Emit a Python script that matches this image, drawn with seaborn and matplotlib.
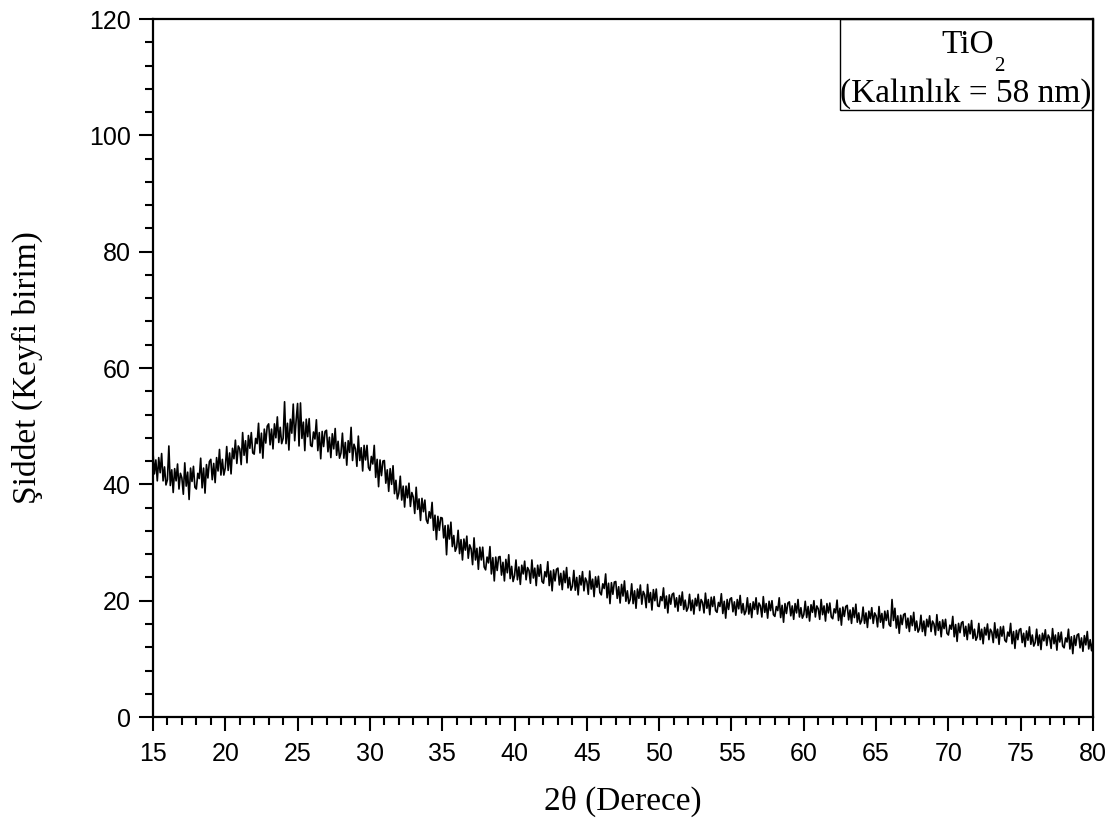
import numpy as np
import pandas as pd
import matplotlib
matplotlib.use("Agg")
import matplotlib.pyplot as plt
from matplotlib.patches import Rectangle
from matplotlib.ticker import MultipleLocator
import seaborn as sns

# ---- data: intensity every 0.1 degree, 15.0 ... 80.0 ----
two_theta_start = 15.0
two_theta_step = 0.1
intensity = [
    45.6, 41.8, 44.2, 40.6, 44.6, 42.0, 45.3, 40.6, 43.0, 39.9,  # 15
    40.8, 46.6, 39.8, 42.5, 38.6, 42.7, 40.6, 43.5, 39.2, 41.9,  # 16
    41.1, 38.3, 43.7, 39.7, 42.1, 37.4, 42.8, 40.5, 43.1, 39.5,  # 17
    39.2, 41.9, 41.0, 44.5, 39.4, 42.8, 38.5, 43.4, 41.1, 43.9,  # 18
    44.3, 40.8, 43.6, 40.3, 44.6, 42.3, 46.0, 41.6, 44.3, 41.6,  # 19
    42.8, 46.5, 42.4, 45.4, 41.8, 46.2, 44.4, 47.6, 43.6, 46.6,  # 20
    46.1, 43.4, 48.9, 45.0, 47.5, 43.7, 48.4, 46.2, 48.9, 45.4,  # 21
    45.2, 47.9, 47.0, 50.5, 45.4, 48.8, 44.5, 49.5, 47.1, 50.0,  # 22
    50.4, 46.8, 49.5, 46.1, 50.4, 48.0, 51.6, 47.2, 49.8, 47.0,  # 23
    47.9, 54.2, 47.0, 50.5, 45.9, 51.2, 48.8, 53.8, 47.5, 51.0,  # 24
    53.9, 46.6, 54.0, 47.9, 50.7, 45.8, 51.2, 48.2, 51.3, 46.7,  # 25
    46.5, 49.0, 47.8, 51.1, 45.8, 48.9, 44.4, 49.1, 46.5, 49.1,  # 26
    49.3, 45.6, 48.1, 44.6, 48.7, 46.1, 49.6, 45.0, 47.4, 44.5,  # 27
    45.4, 48.8, 44.5, 47.2, 43.3, 47.5, 45.5, 49.8, 44.1, 46.9,  # 28
    46.1, 43.1, 48.3, 44.1, 46.3, 42.3, 46.7, 44.2, 46.7, 42.9,  # 29
    42.4, 44.8, 43.5, 46.7, 41.2, 44.3, 39.6, 44.2, 41.5, 44.0,  # 30
    44.1, 40.2, 42.5, 38.8, 42.7, 40.0, 43.2, 38.4, 40.7, 37.5,  # 31
    38.5, 41.4, 37.3, 39.7, 36.1, 39.7, 37.7, 40.2, 36.2, 38.6,  # 32
    37.8, 35.0, 39.5, 35.7, 37.5, 33.8, 37.6, 35.3, 37.3, 33.9,  # 33
    33.3, 35.3, 34.2, 36.9, 32.1, 34.7, 30.5, 34.5, 32.1, 34.3,  # 34
    34.2, 30.8, 32.9, 27.9, 33.0, 30.6, 33.5, 29.3, 31.2, 28.5,  # 35
    29.2, 32.1, 28.1, 30.5, 27.0, 30.6, 28.7, 31.1, 27.3, 29.6,  # 36
    28.9, 26.2, 30.8, 27.0, 29.0, 25.4, 29.2, 27.0, 29.2, 25.8,  # 37
    25.3, 27.5, 26.5, 29.3, 24.6, 27.4, 23.4, 27.5, 25.2, 27.5,  # 38
    27.6, 24.4, 26.6, 23.4, 27.1, 24.8, 27.9, 23.8, 25.9, 23.3,  # 39
    24.3, 27.0, 23.6, 25.8, 22.8, 26.1, 24.6, 26.8, 23.6, 25.7,  # 40
    25.2, 23.0, 27.0, 23.9, 25.6, 22.6, 26.1, 24.2, 26.2, 23.3,  # 41
    23.0, 25.0, 24.1, 26.7, 22.6, 25.1, 21.7, 25.3, 23.4, 25.4,  # 42
    25.6, 22.7, 24.7, 21.9, 25.1, 23.1, 25.7, 22.2, 24.0, 21.8,  # 43
    22.5, 25.2, 21.8, 24.0, 21.0, 24.3, 22.7, 25.0, 21.7, 23.9,  # 44
    23.3, 21.1, 25.1, 22.0, 23.7, 20.7, 24.1, 22.3, 24.2, 21.4,  # 45
    21.0, 22.9, 22.1, 24.6, 20.5, 23.0, 19.5, 23.1, 21.1, 23.2,  # 46
    23.3, 20.4, 22.4, 19.6, 22.8, 20.8, 23.4, 19.9, 21.7, 19.5,  # 47
    20.2, 22.9, 19.5, 21.7, 18.7, 22.0, 20.4, 22.7, 19.4, 21.6,  # 48
    21.0, 18.8, 22.8, 19.7, 21.4, 18.4, 21.9, 20.0, 22.0, 19.1,  # 49
    19.0, 20.7, 20.0, 22.2, 18.7, 20.8, 17.9, 21.0, 19.4, 21.1,  # 50
    21.3, 18.9, 20.5, 18.2, 20.9, 19.2, 21.5, 18.5, 20.1, 18.2,  # 51
    18.8, 21.1, 18.3, 20.1, 17.7, 20.4, 19.1, 21.1, 18.3, 20.2,  # 52
    19.7, 17.9, 21.3, 18.7, 20.2, 17.6, 20.6, 19.0, 20.7, 18.3,  # 53
    18.0, 19.7, 19.0, 21.2, 17.8, 19.9, 17.0, 20.2, 18.5, 20.3,  # 54
    20.5, 18.1, 19.8, 17.5, 20.2, 18.6, 20.9, 17.9, 19.5, 17.6,  # 55
    18.2, 20.5, 17.7, 19.5, 17.1, 19.8, 18.5, 20.5, 17.7, 19.6,  # 56
    19.1, 17.2, 20.7, 18.0, 19.5, 17.0, 19.9, 18.3, 20.0, 17.6,  # 57
    17.3, 19.0, 18.3, 20.5, 17.1, 19.2, 16.3, 19.5, 17.8, 19.6,  # 58
    19.8, 17.4, 19.1, 16.8, 19.5, 17.9, 20.2, 17.2, 18.8, 17.0,  # 59
    17.6, 19.9, 17.1, 19.0, 16.5, 19.3, 18.0, 20.0, 17.2, 19.1,  # 60
    18.6, 16.8, 20.2, 17.6, 19.1, 16.5, 19.5, 17.9, 19.6, 17.2,  # 61
    16.9, 18.6, 17.9, 20.1, 16.6, 18.7, 15.8, 18.9, 17.3, 19.0,  # 62
    19.2, 16.7, 18.4, 16.1, 18.8, 17.1, 19.4, 16.3, 17.9, 16.0,  # 63
    16.6, 18.9, 16.1, 17.9, 15.4, 18.2, 16.9, 18.8, 16.1, 17.9,  # 64
    17.4, 15.5, 19.0, 16.3, 17.8, 15.3, 18.2, 16.6, 18.3, 15.9,  # 65
    15.6, 20.2, 16.6, 18.7, 15.3, 17.4, 14.4, 17.5, 15.9, 17.6,  # 66
    17.8, 15.3, 17.0, 14.7, 17.4, 15.7, 18.0, 14.9, 16.5, 14.6,  # 67
    15.2, 17.5, 14.7, 16.5, 14.0, 16.8, 15.5, 17.4, 14.7, 16.5,  # 68
    16.0, 14.1, 17.6, 14.9, 16.4, 13.8, 16.7, 15.2, 16.8, 14.4,  # 69
    14.1, 15.8, 15.1, 17.3, 13.8, 15.9, 13.0, 16.1, 14.5, 16.2,  # 70
    16.4, 13.9, 15.6, 13.3, 16.0, 14.3, 16.6, 13.5, 15.1, 13.2,  # 71
    13.8, 16.1, 13.3, 15.1, 12.6, 15.4, 14.1, 16.0, 13.3, 15.1,  # 72
    14.6, 12.8, 16.2, 13.6, 15.1, 12.5, 15.5, 13.9, 15.6, 13.2,  # 73
    12.9, 14.6, 13.9, 16.1, 12.6, 14.7, 11.8, 14.9, 13.3, 15.0,  # 74
    15.2, 12.8, 14.4, 12.1, 14.8, 13.2, 15.5, 12.5, 14.1, 12.2,  # 75
    12.8, 15.1, 12.3, 14.1, 11.6, 14.4, 13.1, 15.0, 12.3, 14.1,  # 76
    13.6, 11.8, 15.2, 12.6, 14.1, 11.5, 14.5, 12.9, 14.6, 12.2,  # 77
    11.9, 13.6, 12.9, 15.1, 11.7, 13.8, 10.9, 14.0, 12.3, 14.1,  # 78
    14.3, 11.9, 13.6, 11.3, 14.0, 12.4, 14.7, 11.7, 13.3, 11.4,  # 79
    13.2,                                                        # 80
]
two_theta = np.round(two_theta_start + two_theta_step * np.arange(len(intensity)), 2)

x_label = "2θ (Derece)"
y_label = "Şiddet (Keyfi birim)"
box_formula = "TiO"
box_subscript = "2"
box_line2 = "(Kalınlık = 58 nm)"

df = pd.DataFrame({"two_theta": two_theta, "intensity": intensity})

# ---- style ----
sns.set_theme(style="ticks")
plt.rcParams["font.family"] = ["Liberation Sans", "DejaVu Sans"]
plt.rcParams["text.color"] = "black"
plt.rcParams["axes.labelcolor"] = "black"
plt.rcParams["xtick.color"] = "black"
plt.rcParams["ytick.color"] = "black"

fig = plt.figure(figsize=(11.14, 8.30), dpi=100)
ax = fig.add_axes([0.1373, 0.1361, 0.8439, 0.8410])

sns.lineplot(data=df, x="two_theta", y="intensity", ax=ax, color="black",
             linewidth=1.2, estimator=None)

ax.set_xlim(15, 80)
ax.set_ylim(0, 120)
ax.xaxis.set_major_locator(MultipleLocator(5))
ax.xaxis.set_minor_locator(MultipleLocator(1))
ax.yaxis.set_major_locator(MultipleLocator(20))
ax.yaxis.set_minor_locator(MultipleLocator(4))

for s in ax.spines.values():
    s.set_linewidth(1.6)
    s.set_color("black")

ax.tick_params(axis="both", which="major", direction="out", length=10, width=1.5,
               labelsize=18, colors="black", labelcolor="black",
               top=False, right=False)
ax.tick_params(axis="x", which="major", pad=8)
ax.tick_params(axis="y", which="major", pad=6)
ax.tick_params(axis="both", which="minor", direction="out", length=5.5, width=1.5,
               top=False, right=False)

serif = ["Liberation Serif", "DejaVu Serif"]
ax.set_xlabel(x_label, fontsize=24, family=serif, labelpad=14, color="black")
ax.set_ylabel(y_label, fontsize=24, family=serif, labelpad=33, color="black")

# annotation box at upper right
ax.add_patch(Rectangle((0.7309, 0.8696), 0.2691, 0.1304, transform=ax.transAxes,
                       fill=False, edgecolor="black", linewidth=1.0, zorder=5,
                       clip_on=False))
t_formula = ax.text(0.8665, 0.951, box_formula, transform=ax.transAxes,
                    ha="center", va="baseline", fontsize=24, family=serif,
                    color="black")
ax.annotate(box_subscript, xy=(1.0, 0.0), xycoords=t_formula,
            xytext=(0.5, -7.5), textcoords="offset points",
            ha="left", va="baseline", fontsize=15, family=serif, color="black")
ax.text(0.865, 0.881, box_line2, transform=ax.transAxes, ha="center",
        va="baseline", fontsize=24, family=serif, color="black")

fig.savefig("out.png", dpi=100, facecolor="white")
